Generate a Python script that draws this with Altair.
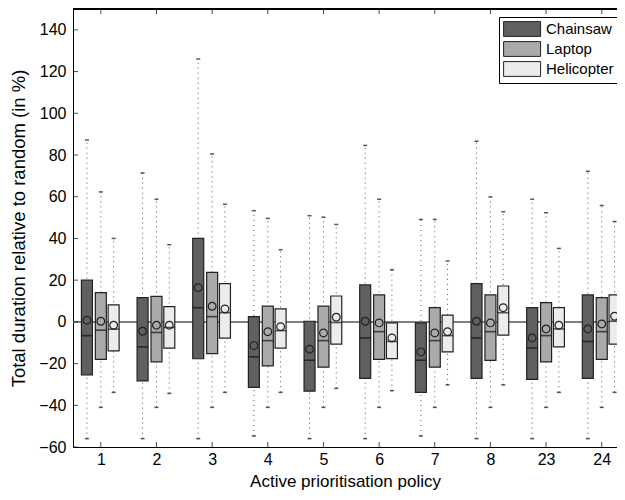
import altair as alt
import pandas as pd

policies = ["1", "2", "3", "4", "5", "6", "7", "8", "23", "24"]
series = ["Chainsaw", "Laptop", "Helicopter"]
colors = ["#606060", "#aaaaaa", "#ececec"]
offsets = [-0.25, 0.0, 0.23]

# Chainsaw
cs_q3 = [20, 11.6, 40, 2.5, 0.3, 17.7, -0.5, 18.3, 6.8, 12.9]
cs_q1 = [-25.4, -28.3, -17.7, -31.4, -33.2, -27.1, -33.8, -27.1, -27.6, -27.1]
cs_med = [-6.6, -12, 6.8, -16.8, -18.4, -7.7, -18.4, -7.7, -12.5, -9.4]
cs_mean = [0.8, -4.5, 16.4, -11.4, -13.1, 0.3, -14.4, 0.3, -7.7, -3.4]
cs_whi = [87.2, 71.4, 126, 53.3, 50.9, 84.6, 49.1, 86.6, 58.8, 72.2]
cs_wlo = [-56, -56, -56, -54.7, -56, -56, -54.7, -56, -56, -56]

# Laptop
lp_q3 = [14.0, 12.2, 23.7, 7.5, 7.5, 12.9, 6.8, 12.9, 9.2, 11.6]
lp_q1 = [-18.0, -19.2, -15.2, -21.1, -21.7, -18.0, -21.7, -18.5, -19.2, -18.0]
lp_med = [-4.0, -5.1, 2.5, -9.0, -9.0, -4.7, -9.0, -4.7, -6.6, -4.7]
lp_mean = [0.3, -1.6, 7.5, -4.7, -5.3, -0.5, -5.3, -0.5, -3.4, -1.0]
lp_whi = [62.3, 58.8, 80.5, 49.6, 50.2, 58.8, 49.1, 59.9, 52.3, 55.8]
lp_wlo = [-41, -41, -41, -41, -41, -41, -41, -41, -41, -41]

# Helicopter
hc_q3 = [8.1, 7.3, 18.3, 6.2, 12.4, -0.5, 3.2, 17.2, 6.8, 12.9]
hc_q1 = [-13.9, -12.6, -7.8, -12.6, -10.7, -17.6, -14.4, -6.4, -12.0, -10.7]
hc_med = [-3.5, -2.7, 4.4, -4.2, -0.3, -9.4, -6.6, 4.4, -3.4, 0.3]
hc_mean = [-1.6, -1.6, 6.2, -2.3, 2.2, -7.7, -4.7, 6.8, -1.6, 2.7]
hc_whi = [40, 37, 56.4, 34.6, 46.7, 25, 29.2, 52.8, 35.2, 48.1]
hc_wlo = [-33.8, -34.3, -33.8, -33.8, -31.9, -33.0, -30.2, -30.2, -33.8, -33.8]

y_ticks = list(range(-60, 141, 20))

stats = {
    "Chainsaw": (cs_q1, cs_q3, cs_med, cs_mean, cs_wlo, cs_whi),
    "Laptop": (lp_q1, lp_q3, lp_med, lp_mean, lp_wlo, lp_whi),
    "Helicopter": (hc_q1, hc_q3, hc_med, hc_mean, hc_wlo, hc_whi),
}

rows = []
for s, off in zip(series, offsets):
    q1, q3, med, mean, wlo, whi = stats[s]
    for i, p in enumerate(policies):
        rows.append(dict(policy=p, pos=i + 1 + off, series=s, q1=q1[i], q3=q3[i],
                         med=med[i], mean=mean[i], wlo=wlo[i], whi=whi[i]))
df = pd.DataFrame(rows)
xt_df = pd.DataFrame({"pos": list(range(1, len(policies) + 1))})
yt_df = pd.DataFrame({"yv": y_ticks})

FONT = "Liberation Sans"
label_expr = "[" + ",".join("'%s'" % p for p in policies) + "][datum.value-1]"

X_MAX = 10.274
xscale = alt.Scale(domain=[0.5, X_MAX], nice=False, zero=False, padding=0)
yscale = alt.Scale(domain=[-60, 150], nice=False, zero=False, padding=0)
xaxis = alt.Axis(values=list(range(1, len(policies) + 1)), labelExpr=label_expr, ticks=False,
                 grid=False, domainColor="black", domainWidth=1, labelFontSize=16,
                 labelPadding=4, titleFontSize=17, titlePadding=6, titleFontWeight="normal",
                 title="Active prioritisation policy", labelColor="black", titleColor="black")
yaxis = alt.Axis(values=y_ticks, ticks=False, grid=False, domainColor="black", domainWidth=1,
                 labelFontSize=16, labelPadding=7, titleFontSize=18.5, titlePadding=10,
                 titleFontWeight="normal", title="Total duration relative to random (in %)",
                 labelColor="black", titleColor="black")


def X(field="pos"):
    return alt.X(f"{field}:Q", scale=xscale, axis=xaxis)


def Y(field):
    return alt.Y(f"{field}:Q", scale=yscale, axis=yaxis)


base = alt.Chart(df)

whisk = base.mark_rule(color="#555555", strokeWidth=1, strokeDash=[1, 4]).encode(
    x=X(), y=Y("wlo"), y2="whi:Q")
cap_hi = base.mark_tick(orient="horizontal", size=4, thickness=1.5, color="#111111").encode(
    x=X(), y=Y("whi"))
cap_lo = base.mark_tick(orient="horizontal", size=4, thickness=1.5, color="#111111").encode(
    x=X(), y=Y("wlo"))
boxes = base.mark_bar(size=11, stroke="#222222", strokeWidth=1.2, opacity=1).encode(
    x=X(), y=Y("q1"), y2="q3:Q",
    fill=alt.Fill("series:N", scale=alt.Scale(domain=series, range=colors),
                  legend=alt.Legend(orient="none", legendX=426, legendY=8, title=None,
                                    symbolType="M-1,-1L4,-1L4,1L-1,1Z",
                                    symbolSize=219, symbolStrokeColor="#222222",
                                    symbolStrokeWidth=1, symbolOpacity=1,
                                    labelFontSize=15, labelFont=FONT, labelColor="black",
                                    labelOffset=27, fillColor="white", strokeColor="black",
                                    padding=4, rowPadding=0)))
medians = base.mark_tick(orient="horizontal", size=11, thickness=1.6, color="#111111").encode(
    x=X(), y=Y("med"))
means = base.mark_point(shape="circle", filled=False, size=60, color="#222222",
                        strokeWidth=1.2, opacity=1).encode(x=X(), y=Y("mean"))

zero = alt.Chart(xt_df).mark_rule(color="#808080", strokeWidth=1.5).encode(y=alt.datum(0))
top = alt.Chart(xt_df).mark_rule(color="black", strokeWidth=1).encode(y=alt.datum(150))

xt_bot = alt.Chart(xt_df).mark_tick(orient="vertical", size=5, thickness=1, color="black",
                                    yOffset=-2.5).encode(x=X(), y=alt.datum(-60))
xt_top = alt.Chart(xt_df).mark_tick(orient="vertical", size=5, thickness=1, color="black",
                                    yOffset=2.5).encode(x=X(), y=alt.datum(150))
yt_left = alt.Chart(yt_df).mark_tick(orient="horizontal", size=5, thickness=1, color="black",
                                     xOffset=2.5).encode(x=alt.datum(0.5), y=Y("yv"))

chart = alt.layer(zero, whisk, cap_hi, cap_lo, boxes, medians, means, top,
                  xt_bot, xt_top, yt_left).properties(
    width=544, height=438,
    autosize=alt.AutoSizeParams(type="none"),
    padding={"left": 65, "top": 1, "right": 0, "bottom": 44},
).configure(font=FONT).configure_view(stroke=None)

chart.save("out.html", embed_options={"renderer": "svg", "actions": False})
